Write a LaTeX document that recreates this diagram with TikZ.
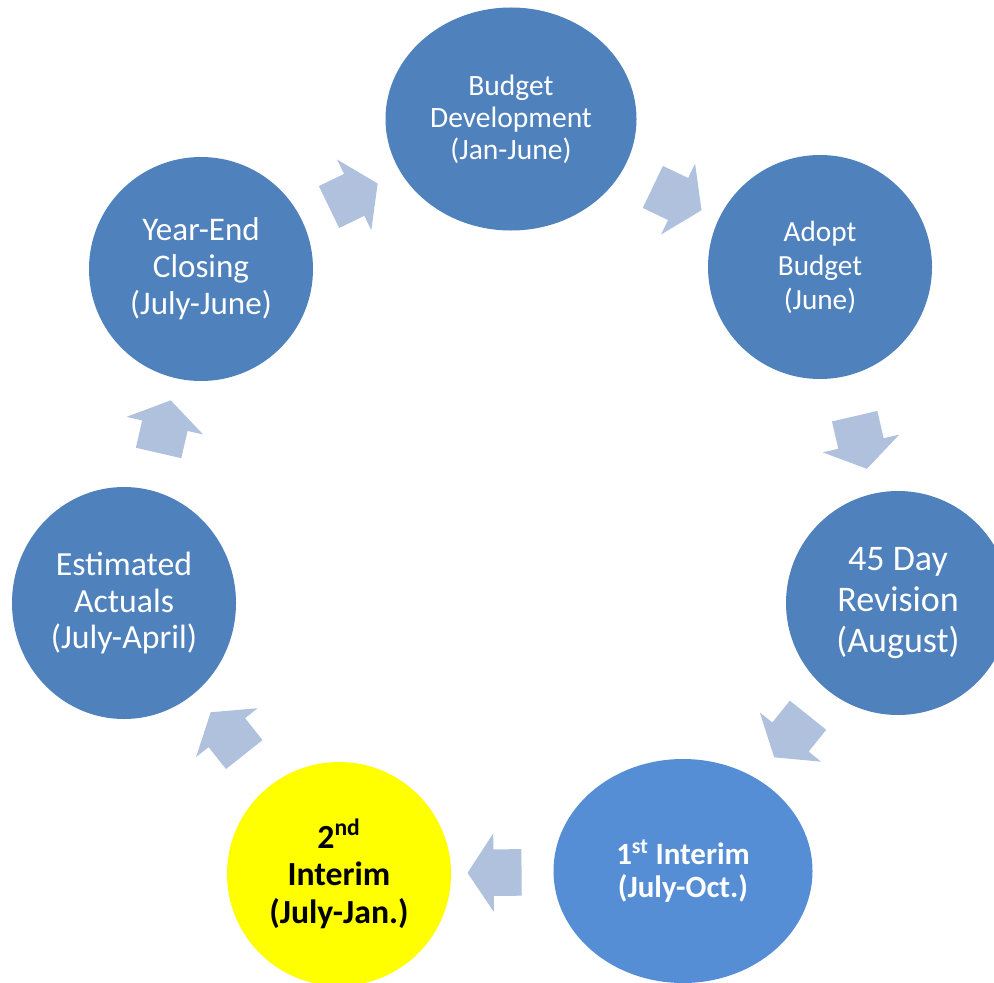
\documentclass[tikz,border=0pt]{standalone}
\usepackage{fontspec}
\setmainfont{Carlito}
\usetikzlibrary{shapes.geometric,shapes.arrows}
\definecolor{stageblue}{RGB}{79,129,189}
\definecolor{interimblue}{RGB}{85,142,213}
\definecolor{flowgray}{RGB}{176,193,222}
\definecolor{markyellow}{RGB}{255,255,0}
\begin{document}
\begin{tikzpicture}[x=0.25mm,y=-0.25mm,
    stage/.style={ellipse,fill=stageblue,text=white,align=center,inner sep=0pt,
      minimum width=56mm,minimum height=56mm},
    flow/.style={single arrow,fill=flowgray,sloped,allow upside down,
      inner xsep=0pt,inner ysep=5.75mm,minimum height=13.5mm,
      single arrow head extend=4mm,single arrow tip angle=113}]
  \fill[white] (0,0) rectangle (994,982);
  \useasboundingbox (0,0) rectangle (994,982);
  \node[stage,minimum width=62.75mm,minimum height=55.75mm,
    font=\fontsize{21}{22.8}\selectfont] (bdev) at (511,119)
    {Budget\\Development\\(Jan-June)};
  \node[stage,font=\fontsize{20.8}{24.2}\selectfont] (adopt) at (820,267)
    {Adopt\\Budget\\(June)};
  \node[stage,font=\fontsize{25.6}{29}\selectfont] (rev) at (898,603)
    {45 Day\\Revision\\(August)};
  \node[stage,fill=interimblue,minimum width=64.75mm,
    font=\fontsize{22}{23.5}\selectfont\bfseries] (int1) at (683,871)
    {1\textsuperscript{st} Interim\\(July-Oct.)};
  \node[stage,fill=markyellow,text=black,
    font=\fontsize{24}{27}\selectfont\bfseries] (int2) at (339,874)
    {2\textsuperscript{nd}\\Interim\\(July-Jan.)};
  \node[stage,minimum height=58mm,font=\fontsize{24}{26.3}\selectfont] (est) at (124,603)
    {Estimated\\Actuals\\(July-April)};
  \node[stage,font=\fontsize{23.5}{26.3}\selectfont] (yend) at (201,269)
    {Year-End\\Closing\\(July-June)};
  \path (yend) -- node[flow,pos=0.45] {} (bdev);
  \path (bdev) -- node[flow] {} (adopt);
  \path (adopt) -- node[flow] {} (rev);
  \path (rev) -- node[flow,pos=0.45] {} (int1);
  \path (int1) -- node[flow] {} (int2);
  \path (int2) -- node[flow] {} (est);
  \path (est) -- node[flow] {} (yend);
\end{tikzpicture}
\end{document}
